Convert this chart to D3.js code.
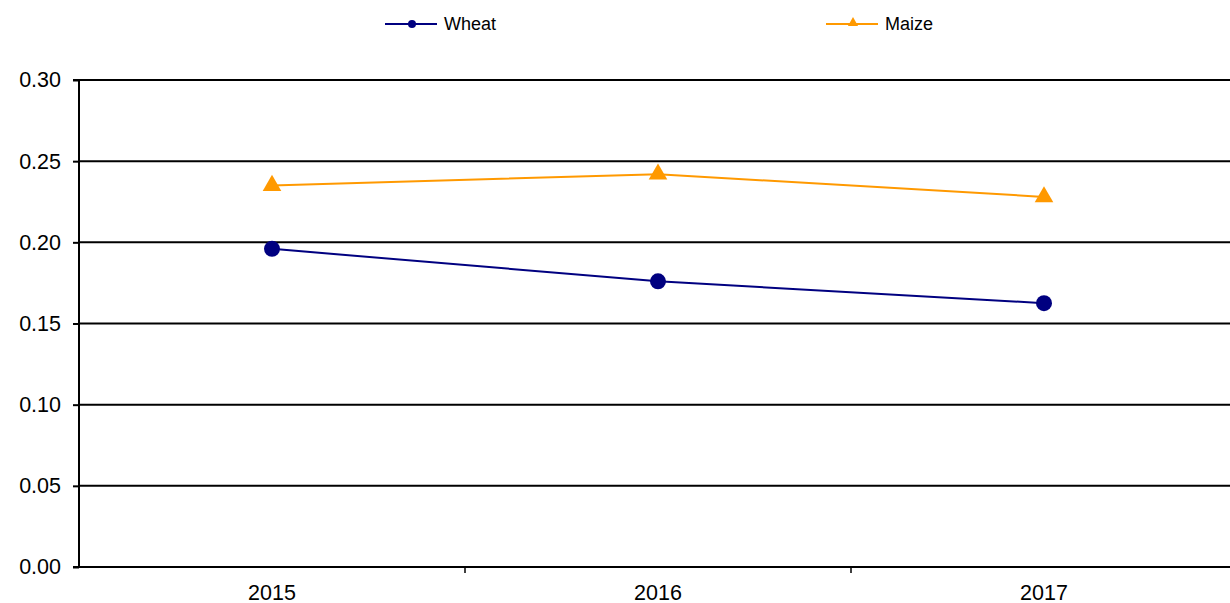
<!DOCTYPE html>
<html>
<head>
<meta charset="utf-8">
<script src="https://cdn.jsdelivr.net/npm/d3@7"></script>
<style>
  html, body { margin: 0; padding: 0; background: #fff; }
  svg { display: block; font-family: "Liberation Sans", Arial, sans-serif; }
</style>
</head>
<body>
<svg id="chart" width="1230" height="603"></svg>
<script>
const categories = ["2015", "2016", "2017"];
const wheat = [0.196, 0.176, 0.1625];
const maize = [0.235, 0.242, 0.228];
const yTicks = [0.00, 0.05, 0.10, 0.15, 0.20, 0.25, 0.30];
const seriesNames = ["Wheat", "Maize"];
const seriesColors = ["#000080", "#FF9900"];

(function () {
const svg = d3.select("#chart");
const pLeft = 79, pRight = 1237, pTop = 80, pBottom = 567;

const x = d3.scaleBand().domain(categories).range([pLeft, pRight]).paddingInner(0).paddingOuter(0);
const y = d3.scaleLinear().domain([0, 0.3]).range([pBottom, pTop]);

// gridlines
svg.append("g").selectAll("line").data(yTicks.filter(d => d > 0)).join("line")
  .attr("x1", pLeft).attr("x2", pRight)
  .attr("y1", d => y(d)).attr("y2", d => y(d))
  .attr("stroke", "#000").attr("stroke-width", 2);

// y axis
const yAxis = d3.axisLeft(y).tickValues(yTicks).tickFormat(d3.format(".2f")).tickSize(6).tickPadding(12);
const gy = svg.append("g").attr("transform", `translate(${pLeft},0)`).call(yAxis);
gy.select(".domain").attr("stroke", "#000").attr("stroke-width", 2).attr("d", `M-6,${pTop}H0V${pBottom}H-6`);
gy.selectAll(".tick line").attr("stroke", "#000").attr("stroke-width", 2);
gy.selectAll(".tick text").attr("font-size", 21.5).attr("fill", "#000")
  .attr("font-family", "Liberation Sans, Arial, sans-serif");

// x axis
const xAxis = d3.axisBottom(x).tickSize(0).tickPadding(18);
const gx = svg.append("g").attr("transform", `translate(0,${pBottom})`).call(xAxis);
gx.select(".domain").remove();
gx.selectAll(".tick text").attr("font-size", 21.5).attr("fill", "#000")
  .attr("font-family", "Liberation Sans, Arial, sans-serif");
svg.append("line").attr("x1", pLeft - 6).attr("x2", pRight).attr("y1", pBottom).attr("y2", pBottom)
  .attr("stroke", "#000").attr("stroke-width", 2);
// category boundary ticks
svg.append("g").selectAll("line").data(categories.slice(1)).join("line")
  .attr("x1", d => x(d)).attr("x2", d => x(d))
  .attr("y1", pBottom).attr("y2", pBottom + 6)
  .attr("stroke", "#000").attr("stroke-width", 1.5);

const cx = d => x(d) + x.bandwidth() / 2;
const line = d3.line().x(d => cx(d.c)).y(d => y(d.v));

const wheatData = categories.map((c, i) => ({c, v: wheat[i]}));
const maizeData = categories.map((c, i) => ({c, v: maize[i]}));

svg.append("path").datum(maizeData).attr("d", line).attr("fill", "none")
  .attr("stroke", seriesColors[1]).attr("stroke-width", 2);
svg.append("path").datum(wheatData).attr("d", line).attr("fill", "none")
  .attr("stroke", seriesColors[0]).attr("stroke-width", 2);

const tri = d3.symbol().type(d3.symbolTriangle).size(150);
svg.append("g").selectAll("path").data(maizeData).join("path")
  .attr("d", tri)
  .attr("transform", d => `translate(${cx(d.c)},${y(d.v)})`)
  .attr("fill", seriesColors[1]);

svg.append("g").selectAll("circle").data(wheatData).join("circle")
  .attr("cx", d => cx(d.c)).attr("cy", d => y(d.v)).attr("r", 8)
  .attr("fill", seriesColors[0]);

// legend
const legendX = [385, 826];
const legendY = 24;
seriesNames.forEach((name, i) => {
  const g = svg.append("g").attr("transform", `translate(${legendX[i]},${legendY})`);
  g.append("line").attr("x1", 0).attr("x2", 52).attr("y1", 0).attr("y2", 0)
    .attr("stroke", seriesColors[i]).attr("stroke-width", 2);
  if (i === 0) {
    g.append("circle").attr("cx", 27).attr("cy", 0).attr("r", 4).attr("fill", seriesColors[i]);
  } else {
    g.append("path").attr("d", d3.symbol().type(d3.symbolTriangle).size(45)())
      .attr("transform", "translate(27,-1)").attr("fill", seriesColors[i]);
  }
  g.append("text").attr("x", 59).attr("y", 6).attr("font-size", 18).attr("fill", "#000")
    .text(name);
});
})();
</script>
</body>
</html>
